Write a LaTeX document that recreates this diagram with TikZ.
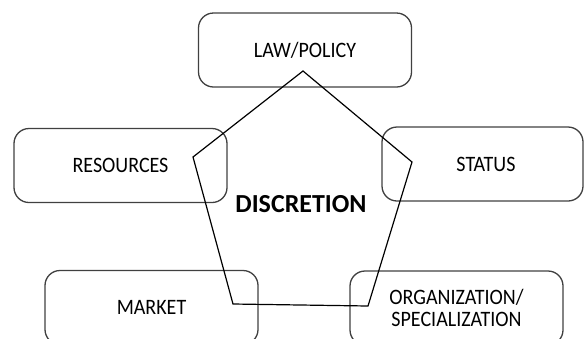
\documentclass[tikz,border=0pt]{standalone}
\usepackage{fontspec}
\setmainfont{Carlito}
\newfontfamily\lblfont[FakeStretch=0.91]{Carlito}
\begin{document}
\begin{tikzpicture}[x=1pt,y=-1pt,
  factor/.style={draw=black!75,line width=1.3pt,rounded corners=15pt,inner sep=0pt,
    minimum width=213pt,minimum height=74pt,align=center,
    font=\lblfont\fontsize{22}{22}\selectfont},
  penta/.style={draw=black,line width=1.2pt,line join=miter}]
\useasboundingbox (0,0) rectangle (585,338);
\clip (0,0) rectangle (585,338);
\node[factor] (law) at (305,50) {LAW/POLICY};
\node[factor] (res) at (120.5,165.5) {RESOURCES};
\node[factor,minimum width=201pt] (stat) at (482.5,164) {\hspace*{7pt}STATUS};
\node[factor] (mkt) at (151.5,307.5) {MARKET};
\node[factor] (org) at (456.5,308) {ORGANIZATION/\\SPECIALIZATION};
\coordinate (ptop) at (303,71);
\coordinate (pright) at (412,162);
\coordinate (pbr) at (368,306);
\coordinate (pbl) at (233,304);
\coordinate (pleft) at (193,157);
\draw[penta] (ptop) -- (pright) -- (pbr) -- (pbl) -- (pleft) -- cycle;
\node[font=\fontsize{26}{30}\selectfont\bfseries] (disc) at (301,204) {DISCRETION};
\end{tikzpicture}
\end{document}
